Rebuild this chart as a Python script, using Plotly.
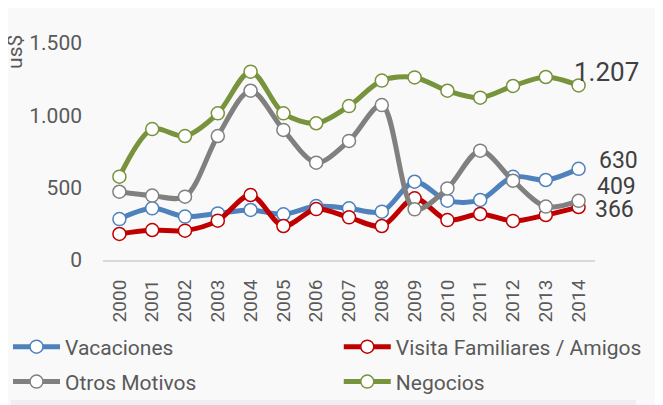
import plotly.graph_objects as go

# Datos
anios = [str(a) for a in range(2000, 2015)]
vacaciones = [283, 357, 300, 322, 346, 316, 373, 357, 334, 541, 410, 415, 575, 553, 630]
visita = [180, 207, 203, 272, 449, 235, 352, 295, 235, 426, 276, 318, 270, 311, 366]
otros = [472, 445, 438, 857, 1170, 899, 673, 823, 1071, 350, 495, 756, 548, 369, 409]
negocios = [576, 905, 857, 1014, 1302, 1014, 945, 1064, 1240, 1262, 1170, 1122, 1203, 1265, 1207]

# nombre, valores, color, leyenda, posicion de la leyenda (x, y en container)
series = [
    ("Vacaciones", vacaciones, "#4f81bd", "legend", 0.0, 0.146),
    ("Visita Familiares / Amigos", visita, "#c00000", "legend2", 0.505, 0.146),
    ("Otros Motivos", otros, "#808080", "legend3", 0.0, 0.058),
    ("Negocios", negocios, "#77933c", "legend4", 0.505, 0.058),
]

fig = go.Figure()
leyendas = {}
for nombre, valores, color, ley, lx, ly in series:
    fig.add_trace(go.Scatter(
        x=anios, y=valores, name=nombre, mode="lines+markers", legend=ley, showlegend=True,
        line=dict(color=color, width=5, shape="spline", smoothing=0.9),
        marker=dict(size=13, color="white", line=dict(color=color, width=1.5)),
    ))
    leyendas[ley] = dict(xref="container", yref="container", x=lx, y=ly, visible=True,
                         xanchor="left", yanchor="middle", orientation="h",
                         itemwidth=47, bgcolor="rgba(0,0,0,0)",
                         font=dict(size=21, color="#595959"))

# etiquetas al final de cada serie
n = len(anios) - 1
etiquetas = [(negocios[-1], "1.207", 26, -7, 13), (vacaciones[-1], "630", 23, 18, 8),
             (otros[-1], "409", 23, 16, 14), (visita[-1], "366", 23, 14, -2)]
for val, txt, tam, dx, dy in etiquetas:
    fig.add_annotation(x=n, y=val, xref="x", yref="y", text=txt, showarrow=False,
                       xanchor="left", xshift=dx, yshift=dy,
                       font=dict(size=tam, color="#404040"))

fig.add_annotation(xref="paper", yref="paper", x=-0.179, y=1.046, text="us$", textangle=-90,
                   showarrow=False, xanchor="center", yanchor="top",
                   font=dict(size=21, color="#595959"))

# franja gris clara abajo
fig.add_shape(type="rect", xref="paper", yref="paper", x0=-0.187, x1=1.083, y0=-0.645, y1=-0.7,
              fillcolor="#efefef", line_width=0, layer="below")

fig.update_xaxes(type="category", showgrid=False, showline=True, linecolor="#d9d9d9",
                 linewidth=2, tickangle=-90, tickfont=dict(size=19, color="#595959"),
                 ticks="", range=[-0.5, 14.5], ticklabelstandoff=10)
fig.update_yaxes(range=[0, 1500], showgrid=False, zeroline=False,
                 tickvals=[0, 500, 1000, 1500], ticktext=["0", "500", "1.000", "1.500"],
                 tickfont=dict(size=21, color="#595959"), ticklabelstandoff=20)
fig.update_layout(
    width=655, height=397, margin=dict(l=95, r=68, t=35, b=145, autoexpand=False),
    paper_bgcolor="#f9f9f9", plot_bgcolor="#f9f9f9", showlegend=True,
    font=dict(family="Roboto", color="#595959"),
    **leyendas,
)
fig.write_html("out.html")
